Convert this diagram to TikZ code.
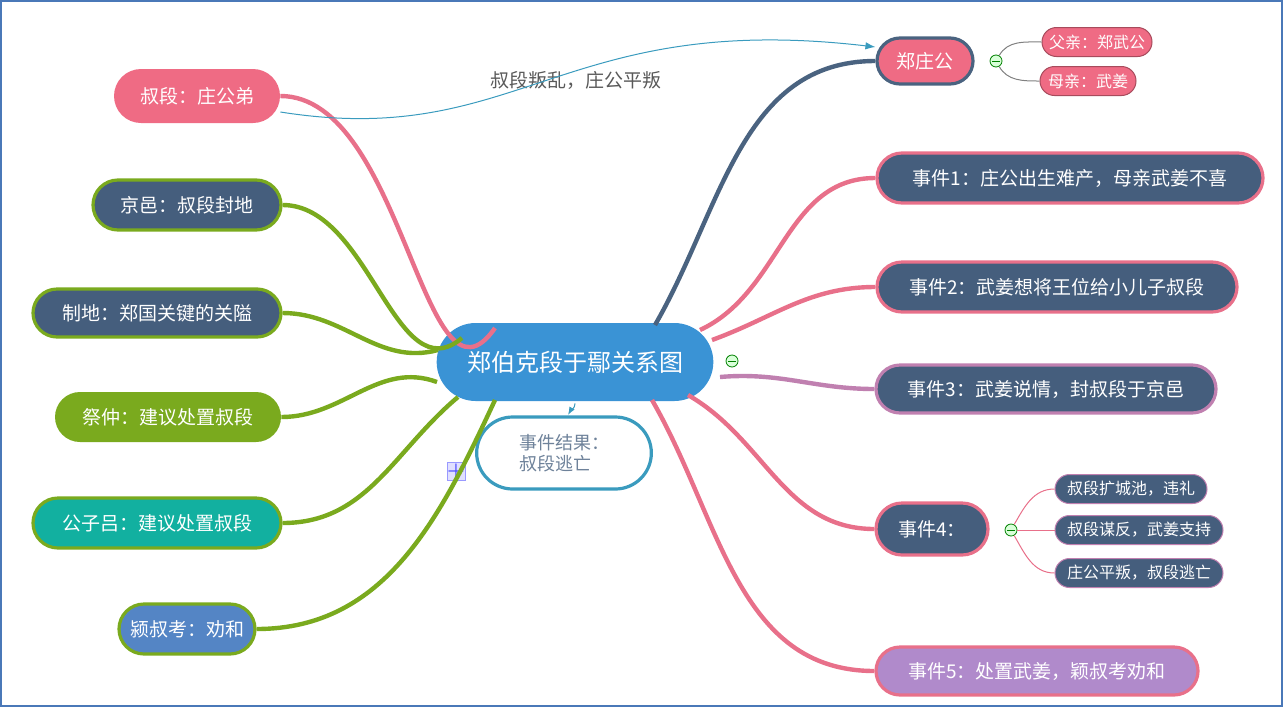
\documentclass[tikz,border=0pt]{standalone}
\usepackage{fontspec}
\newfontfamily\cjk{Noto Sans CJK SC}
\usetikzlibrary{shapes.misc,arrows.meta}
\definecolor{pk}{HTML}{EF6B84}
\definecolor{pkl}{HTML}{E8708A}
\definecolor{nv}{HTML}{455E7D}
\definecolor{nvl}{HTML}{4A6380}
\definecolor{gr}{HTML}{7AAA1E}
\definecolor{bl}{HTML}{3A93D5}
\definecolor{pu}{HTML}{C080B0}
\definecolor{lav}{HTML}{B08ACB}
\definecolor{tl}{HTML}{12B0A0}
\definecolor{sb}{HTML}{5485C5}
\definecolor{rb}{HTML}{3A9BBE}
\tikzset{
 bx/.style={rounded rectangle,text=white,font=\cjk\fontsize{9.5}{11}\selectfont,minimum height=25pt,inner xsep=6pt},
 sub/.style={rounded rectangle,text=white,font=\cjk\fontsize{8}{9}\selectfont,minimum height=14.5pt,inner xsep=5pt,draw=#1,line width=0.5pt},
 br/.style={line width=2.2pt,#1},
 thin/.style={line width=0.5pt,#1},
 mn/.style={circle,draw=green!50!black,fill=green!15,minimum size=6pt,inner sep=0pt,line width=0.4pt,
   path picture={\draw[line width=0.5pt] ([xshift=-2pt]path picture bounding box.center)--([xshift=2pt]path picture bounding box.center);}},
}
\begin{document}
\begin{tikzpicture}[x=0.5pt,y=-0.5pt]
\useasboundingbox (0,0) rectangle (1283,707);
\draw[color={rgb,255:red,74;green,120;blue,184},line width=1.2pt] (1,1) rectangle (1282,706);
% center
\node[rounded rectangle,fill=bl,text=white,font=\cjk\fontsize{12}{14}\selectfont,minimum width=145pt,minimum height=39pt] (c) at (575,362) {郑伯克段于鄢关系图};
% right
\node[bx,fill=pk,draw=nvl,line width=1.6pt,minimum width=60pt,minimum height=23pt] (zg) at (925,61) {郑庄公};
\node[sub=pk!70!black,fill=pk,minimum width=65pt] (fq) at (1097,42) {父亲：郑武公};
\node[sub=pk!70!black,fill=pk,minimum width=58pt] (mq) at (1088,81) {母亲：武姜};
\node[mn] (m1) at (996,61) {};
\node[bx,fill=nv,draw=pkl,line width=1.6pt,minimum width=205pt] (e1) at (1070,178) {事件1：庄公出生难产，母亲武姜不喜};
\node[bx,fill=nv,draw=pkl,line width=1.6pt,minimum width=192pt] (e2) at (1057,287) {事件2：武姜想将王位给小儿子叔段};
\node[bx,fill=nv,draw=pu,line width=1.6pt,minimum width=182pt,minimum height=24pt] (e3) at (1046,389) {事件3：武姜说情，封叔段于京邑};
\node[bx,fill=nv,draw=pkl,line width=1.6pt,minimum width=68pt,minimum height=26pt] (e4) at (932,529) {事件4：};
\node[sub=pu,fill=nv,minimum width=86pt] (s1) at (1131,489) {叔段扩城池，违礼};
\node[sub=pu,fill=nv,minimum width=94pt] (s2) at (1139,530) {叔段谋反，武姜支持};
\node[sub=pu,fill=nv,minimum width=94pt] (s3) at (1139,573) {庄公平叛，叔段逃亡};
\node[mn] (m4) at (1011,530) {};
\node[bx,fill=lav,draw=pkl,line width=1.6pt,minimum width=173pt,minimum height=24pt] (e5) at (1037,671) {事件5：处置武姜，颖叔考劝和};
\node[mn] (mc) at (732,361) {};
% left
\node[bx,fill=pk,minimum width=95pt,minimum height=27pt] (l1) at (197,96) {叔段：庄公弟};
\node[bx,fill=nv,draw=gr,line width=1.6pt,minimum width=106pt] (l2) at (187,205) {京邑：叔段封地};
\node[bx,fill=nv,draw=gr,line width=1.6pt,minimum width=136pt,minimum height=24pt] (l3) at (157,313) {制地：郑国关键的关隘};
\node[bx,fill=gr,minimum width=125pt] (l4) at (168,417) {祭仲：建议处置叔段};
\node[bx,fill=tl,draw=gr,line width=1.6pt,minimum width=136pt] (l5) at (157,523) {公子吕：建议处置叔段};
\node[bx,fill=sb,draw=gr,line width=1.6pt,minimum width=80pt] (l6) at (187,629) {颍叔考：劝和};
% result
\node[rounded rectangle,draw=rb,line width=1.6pt,fill=white,minimum width=94pt,minimum height=36pt,align=left,text=nvl!80,font=\cjk\fontsize{9}{10.5}\selectfont] (res) at (564,453) {事件结果：\\叔段逃亡};
\node[draw=blue!40,fill=blue!12,minimum size=9pt,inner sep=0pt,text=blue!70,font=\bfseries\fontsize{10}{10}\selectfont] (pl) at (456,471) {+};
\node[text=black!65,font=\cjk\fontsize{9.5}{11}\selectfont] (lab) at (576,80) {叔段叛乱，庄公平叛};
% branches
\begin{scope}[on background layer/.style={}]
\draw[br=pkl] (495,328) to[out=235,in=0] (l1.east);
\draw[br=gr] (462,338) to[out=220,in=0] (l2.east);
\draw[br=gr] (438,350) to[out=195,in=0] (l3.east);
\draw[br=gr] (437,382) to[out=160,in=0] (l4.east);
\draw[br=gr] (458,397) to[out=220,in=0] (l5.east);
\draw[br=gr] (495,400) to[out=245,in=0] (l6.east);
\draw[br=nvl] (655,325) to[out=60,in=180] (zg.west);
\draw[br=pkl] (700,330) to[out=25,in=180] (e1.west);
\draw[br=pkl] (712,340) to[out=20,in=180] (e2.west);
\draw[br=pu] (720,377) to[out=5,in=180] (e3.west);
\draw[br=pkl] (688,395) to[out=-30,in=180] (e4.west);
\draw[br=pkl] (652,400) to[out=-60,in=180] (e5.west);
\end{scope}
\draw[thin=gray] (m1) to[out=60,in=180] (fq.west);
\draw[thin=gray] (m1) to[out=-60,in=180] (mq.west);
\draw[thin=pkl] (m4) to[out=60,in=180] (s1.west);
\draw[thin=pkl] (m4) -- (s2.west);
\draw[thin=pkl] (m4) to[out=-60,in=180] (s3.west);
\draw[thin=rb,-{Latex[length=5pt]}] (l1.east|-0,112) .. controls (520,150) and (560,10) .. (zg.west|-0,47);
\draw[thin=rb,-{Latex[length=4pt]}] (c.south) ++(0,2) coordinate (cs) (cs) to[out=-90,in=60] (568,415);
\end{tikzpicture}
\end{document}
